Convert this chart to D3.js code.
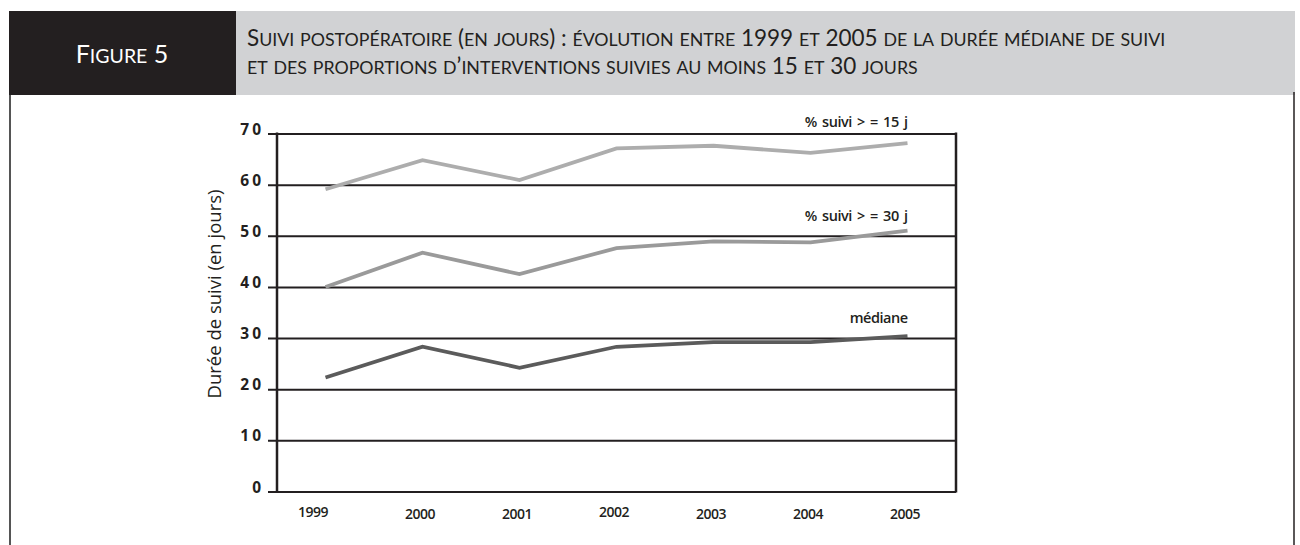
<!DOCTYPE html>
<html><head><meta charset="utf-8">
<script src="https://cdn.jsdelivr.net/npm/d3@7"></script>
<style>
body{margin:0;background:#fff;}
svg{display:block;}
</style></head>
<body>
<svg id="c" width="1300" height="545"></svg>
<script>
const years = ["1999","2000","2001","2002","2003","2004","2005"];
const suivi15 = [59.1, 64.8, 60.9, 67.1, 67.6, 66.2, 68.1];
const suivi30 = [40.0, 46.7, 42.5, 47.6, 48.9, 48.7, 51.0];
const mediane = [22.3, 28.3, 24.2, 28.3, 29.2, 29.2, 30.4];
const yTicks = [0,10,20,30,40,50,60,70];
const seriesNames = ["% suivi > = 15 j", "% suivi > = 30 j", "médiane"];
const seriesColors = ["#adadad", "#9a9a9a", "#5b5b5b"];
const figLabel = "Figure 5";
const titleLine1 = "Suivi postopératoire (en jours) : évolution entre 1999 et 2005 de la durée médiane de suivi";
const titleLine2 = "et des proportions d’interventions suivies au moins 15 et 30 jours";
const yTitle = "Durée de suivi (en jours)";

const svg = d3.select("#c");

// small caps helper: builds tspans (lowercase -> smaller uppercase)
function smallCaps(sel, str, big, small){
  const runs = [];
  for (const ch of str){
    const isLower = ch !== ch.toUpperCase();
    const last = runs[runs.length-1];
    if (last && last.lower === isLower) last.t += ch; else runs.push({t:ch, lower:isLower});
  }
  runs.forEach(r=>{
    sel.append("tspan").attr("font-size", r.lower ? small : big)
      .text(r.lower ? r.t.toUpperCase() : r.t);
  });
}

// header
svg.append("rect").attr("x",9).attr("y",11).attr("width",227).attr("height",84).attr("fill","#231f20");
svg.append("rect").attr("x",236).attr("y",11).attr("width",1059).attr("height",84).attr("fill","#d1d2d4");
const fl = svg.append("text").attr("x",122).attr("y",63).attr("text-anchor","middle")
  .attr("fill","#fff").attr("font-family","Lato, 'Open Sans', sans-serif");
smallCaps(fl, figLabel, 25, 19.5);
const t1 = svg.append("text").attr("x",247).attr("y",46).attr("fill","#231f20")
  .attr("font-family","Lato, 'Open Sans', sans-serif");
smallCaps(t1, titleLine1, 22.5, 17.8);
const t2 = svg.append("text").attr("x",247).attr("y",74).attr("fill","#231f20")
  .attr("font-family","Lato, 'Open Sans', sans-serif");
smallCaps(t2, titleLine2, 22.5, 17.8);

// frame lines
svg.append("line").attr("x1",10).attr("x2",10).attr("y1",95).attr("y2",545).attr("stroke","#555").attr("stroke-width",2);
svg.append("line").attr("x1",1294).attr("x2",1294).attr("y1",92).attr("y2",545).attr("stroke","#231f20").attr("stroke-width",1.5);

// plot
const x0 = 277, x1 = 956, yTop = 133.5, yBot = 491.5;
const x = d3.scalePoint().domain(years).range([x0, x1]).padding(0.5);
const y = d3.scaleLinear().domain([0,70]).range([yBot, yTop]);

const g = svg.append("g");
// grid
const yAxis = d3.axisLeft(y).tickValues(yTicks).tickSize(-(x1-x0)).tickPadding(0).tickFormat("");
const ga = g.append("g").attr("transform",`translate(${x0},0)`).call(yAxis);
ga.select(".domain").remove();
ga.selectAll(".tick line").attr("stroke","#231f20").attr("stroke-width",2).attr("x1",-9);

// tick labels
g.selectAll(".ylab").data(yTicks).join("text")
  .attr("x",264).attr("y",d=>y(d)+1).attr("text-anchor","end")
  .attr("font-family","'Open Sans', sans-serif").attr("font-weight","bold")
  .attr("font-size",15.5).attr("letter-spacing",3).attr("fill","#231f20")
  .text(d=>String(d));

// axes lines (left & right box)
g.append("line").attr("x1",x0).attr("x2",x0).attr("y1",yTop-1).attr("y2",yBot+1).attr("stroke","#231f20").attr("stroke-width",2.5);
g.append("line").attr("x1",x1).attr("x2",x1).attr("y1",yTop-1).attr("y2",yBot+1).attr("stroke","#231f20").attr("stroke-width",2.5);

// x labels
const xAxis = d3.axisBottom(x).tickSize(0).tickPadding(0);
const gx = g.append("g").attr("transform",`translate(0,${yBot})`).call(xAxis);
gx.select(".domain").remove();
gx.selectAll(".tick text").attr("dy",null).attr("y",(d,i)=> (i===0||i===3) ? 25 : 27)
  .attr("font-family","'Open Sans', sans-serif").attr("font-weight",600)
  .attr("font-size",14).attr("letter-spacing",-0.5).attr("fill","#231f20")
  .attr("dx",(d,i)=> i===0 ? -13 : -3);

// y title
svg.append("text").attr("transform","translate(221,294) rotate(-90)").attr("text-anchor","middle")
  .attr("font-family","'Open Sans', sans-serif").attr("font-size",18.5)
  .attr("fill","#231f20").text(yTitle);

// lines
const allSeries = [suivi15, suivi30, mediane];
const line = d3.line().x((d,i)=>x(years[i])).y(d=>y(d));
allSeries.forEach((s,k)=>{
  g.append("path").attr("d",line(s)).attr("fill","none")
    .attr("stroke",seriesColors[k]).attr("stroke-width",3.8).attr("stroke-linejoin","miter");
});

// series labels
const labelY = [127, 221, 323];
seriesNames.forEach((n,k)=>{
  g.append("text").attr("x",x(years[6])).attr("y",labelY[k]).attr("text-anchor","end")
    .attr("font-family","'Open Sans', sans-serif").attr("font-weight",600).attr("font-size",14.5)
    .attr("letter-spacing",-0.5).attr("word-spacing",2)
    .attr("fill","#231f20").text(n);
});
</script>
</body></html>
